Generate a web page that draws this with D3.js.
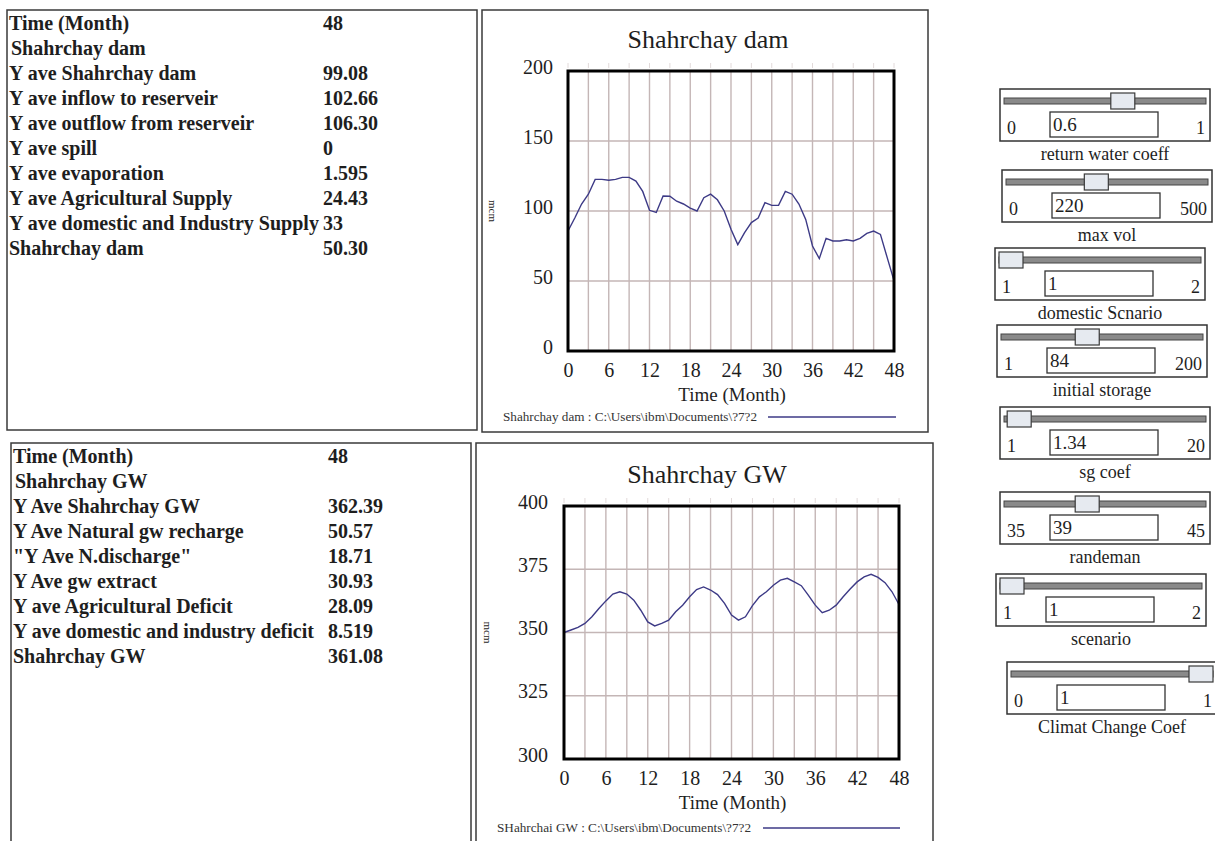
<!DOCTYPE html>
<html>
<head>
<meta charset="utf-8">
<script src="https://cdn.jsdelivr.net/npm/d3@7"></script>
<style>
  html, body { margin: 0; padding: 0; background: #fff; }
  svg { display: block; font-family: "Liberation Serif", "Times New Roman", serif; }
</style>
</head>
<body>
<svg id="view" width="1215" height="841"></svg>
<script>
// ---- Simulation output: Shahrchay dam storage (mcm), months 0..48
const months = d3.range(0, 49);
const damStorage = [85.7, 95, 105, 112, 122.6, 122.6, 122, 122.6, 124, 124, 121.4, 114, 100.5,
  99, 110.7, 110.5, 107, 105, 102, 100, 109.5, 112, 108, 100, 87, 76, 84.5, 91.7, 95, 106,
  104, 104, 114, 112, 105, 94, 75, 66, 80.5, 78.6, 78.6, 79.5, 78.6, 80.5, 84, 85.7, 83.3, 66.7, 50.3];

// ---- Simulation output: Shahrchay groundwater (mcm), months 0..48
const gwStorage = [350, 351, 352, 353.6, 356.2, 359.5, 362.5, 365.2, 366.1, 365.2, 362.8, 358.8,
  354.2, 352.6, 353.6, 354.9, 358.2, 360.8, 364.1, 367, 368, 366.8, 365, 361.5, 356.9, 354.9,
  356.2, 360.6, 364.1, 366.1, 368.7, 370.7, 371.4, 370, 368.5, 364.8, 360.8, 357.8, 358.8,
  360.8, 364.1, 367.2, 370, 372, 373, 371.8, 369.7, 366.1, 361.08];

// Axis ticks
const timeTicks = [0, 6, 12, 18, 24, 30, 36, 42, 48];
const timeGrid = d3.range(0, 49, 3);
const damTicks = [0, 50, 100, 150, 200];
const gwTicks = [300, 325, 350, 375, 400];

// ---- Summary tables
const damTableLabels = ["Time (Month)", "Shahrchay dam", "Y ave Shahrchay dam", "Y ave inflow to reserveir",
  "Y ave outflow from reserveir", "Y ave spill", "Y ave evaporation", "Y ave Agricultural Supply",
  "Y ave domestic and Industry Supply", "Shahrchay dam"];
const damTableValues = ["48", "", "99.08", "102.66", "106.30", "0", "1.595", "24.43", "33", "50.30"];

const gwTableLabels = ["Time (Month)", "Shahrchay GW", "Y Ave Shahrchay GW", "Y Ave Natural gw recharge",
  "\"Y Ave N.discharge\"", "Y Ave gw extract", "Y ave Agricultural Deficit",
  "Y ave domestic and industry deficit", "Shahrchay GW"];
const gwTableValues = ["48", "", "362.39", "50.57", "18.71", "30.93", "28.09", "8.519", "361.08"];

// ---- Model input sliders
const sliderNames = ["return water coeff", "max vol", "domestic Scnario", "initial storage",
  "sg coef", "randeman", "scenario", "Climat Change Coef"];
const sliderMin = [0, 0, 1, 1, 1, 35, 1, 0];
const sliderMax = [1, 500, 2, 200, 20, 45, 2, 1];
const sliderValues = [0.6, 220, 1, 84, 1.34, 39, 1, 1];

const svg = d3.select("#view");
const ink = "#1e1e1e";
const lineColor = "#3d3a86";
const gridColor = "#c4b6b6";

// ---------- Tables ----------
function drawTable(box, labels, values, opt) {
  const g = svg.append("g");
  g.append("rect").attr("x", box.x).attr("y", box.y).attr("width", box.w).attr("height", box.h)
    .attr("fill", "#fff").attr("stroke", "#3a3a3a").attr("stroke-width", 1.5);
  const rows = g.selectAll("g.row").data(labels).join("g").attr("class", "row")
    .attr("transform", (d, i) => `translate(0,${opt.top + i * 25})`);
  rows.append("text")
    .attr("x", (d, i) => i === 1 ? opt.labelX + 2 : opt.labelX)
    .attr("y", 0)
    .attr("font-size", 20).attr("font-weight", "bold").attr("fill", ink)
    .text(d => d);
  rows.append("text")
    .attr("x", opt.valueX).attr("y", 0)
    .attr("font-size", 20).attr("font-weight", "bold").attr("fill", ink)
    .text((d, i) => values[i]);
}
drawTable({ x: 7, y: 10, w: 470, h: 420 }, damTableLabels, damTableValues, { top: 30, labelX: 9, valueX: 323 });
drawTable({ x: 11, y: 443, w: 460, h: 430 }, gwTableLabels, gwTableValues, { top: 463, labelX: 13, valueX: 328 });

// ---------- Line charts ----------
function drawChart(cfg) {
  const g = svg.append("g");
  g.append("rect").attr("x", cfg.panel.x).attr("y", cfg.panel.y).attr("width", cfg.panel.w).attr("height", cfg.panel.h)
    .attr("fill", "#fff").attr("stroke", "#3a3a3a").attr("stroke-width", 1.5);

  const x = d3.scaleLinear().domain([0, 48]).range([cfg.plot.x0, cfg.plot.x1]);
  const y = d3.scaleLinear().domain(cfg.yDomain).range([cfg.plot.y1, cfg.plot.y0]);

  // title
  g.append("text").attr("x", cfg.titleX).attr("y", cfg.titleY).attr("text-anchor", "middle")
    .attr("font-size", 26).attr("fill", ink).text(cfg.title);

  // faint tick marks above the frame
  g.append("g").selectAll("line").data(timeGrid).join("line")
    .attr("x1", d => x(d)).attr("x2", d => x(d))
    .attr("y1", cfg.plot.y0 - 8).attr("y2", cfg.plot.y0 - 3)
    .attr("stroke", "#e2dada").attr("stroke-width", 1);

  // grid
  g.append("g").selectAll("line").data(timeGrid).join("line")
    .attr("x1", d => x(d)).attr("x2", d => x(d))
    .attr("y1", cfg.plot.y0).attr("y2", cfg.plot.y1)
    .attr("stroke", gridColor).attr("stroke-width", 1.4);
  g.append("g").selectAll("line").data(cfg.yTicks).join("line")
    .attr("x1", cfg.plot.x0).attr("x2", cfg.plot.x1)
    .attr("y1", d => y(d)).attr("y2", d => y(d))
    .attr("stroke", gridColor).attr("stroke-width", 1.4);

  // axes
  const yAxis = g.append("g").attr("transform", `translate(${cfg.plot.x0 - cfg.yLabelGap},0)`)
    .call(d3.axisLeft(y).tickValues(cfg.yTicks).tickSize(0).tickPadding(0));
  const xAxis = g.append("g").attr("transform", `translate(0,${cfg.plot.y1 + 8})`)
    .call(d3.axisBottom(x).tickValues(timeTicks).tickSize(0).tickPadding(0));
  [yAxis, xAxis].forEach(a => {
    a.select(".domain").remove();
    a.selectAll("text").attr("font-family", "Liberation Serif, serif").attr("font-size", 20).attr("fill", ink);
  });
  xAxis.selectAll("text").attr("dy", "0.9em");
  yAxis.selectAll("text").attr("dy", "0.1em");

  // series line
  const line = d3.line().x((d, i) => x(months[i])).y(d => y(d));
  g.append("path").datum(cfg.values).attr("d", line)
    .attr("fill", "none").attr("stroke", lineColor).attr("stroke-width", 1.4);

  // frame
  g.append("rect").attr("x", cfg.plot.x0).attr("y", cfg.plot.y0)
    .attr("width", cfg.plot.x1 - cfg.plot.x0).attr("height", cfg.plot.y1 - cfg.plot.y0)
    .attr("fill", "none").attr("stroke", "#000").attr("stroke-width", 3);

  // axis titles
  g.append("text").attr("x", (cfg.plot.x0 + cfg.plot.x1) / 2 + 1).attr("y", cfg.plot.y1 + 50)
    .attr("text-anchor", "middle").attr("font-size", 19).attr("fill", ink).text("Time (Month)");
  g.append("text").attr("transform", `translate(${cfg.unitX},${(cfg.plot.y0 + cfg.plot.y1) / 2}) rotate(90)`)
    .attr("text-anchor", "middle").attr("font-size", 11).attr("fill", ink).text("mcm");

  // legend
  g.append("text").attr("x", cfg.legendX).attr("y", cfg.legendY).attr("font-size", 11.5)
    .attr("fill", "#333").attr("textLength", 254).attr("lengthAdjust", "spacingAndGlyphs")
    .text(cfg.legend);
  g.append("line").attr("x1", cfg.legendLine[0]).attr("x2", cfg.legendLine[1])
    .attr("y1", cfg.legendY - 4).attr("y2", cfg.legendY - 4)
    .attr("stroke", lineColor).attr("stroke-width", 1.3);
}

drawChart({
  panel: { x: 482, y: 10, w: 446, h: 422 },
  plot: { x0: 568, x1: 894, y0: 71, y1: 351 },
  yDomain: [0, 200], yTicks: damTicks, values: damStorage,
  title: "Shahrchay dam", titleX: 708, titleY: 48, yLabelGap: 15, unitX: 489,
  legend: "Shahrchay dam : C:\\Users\\ibm\\Documents\\?7?2", legendX: 503, legendY: 421,
  legendLine: [768, 896]
});
drawChart({
  panel: { x: 476, y: 443, w: 457, h: 430 },
  plot: { x0: 564, x1: 899, y0: 506, y1: 759 },
  yDomain: [300, 400], yTicks: gwTicks, values: gwStorage,
  title: "Shahrchay GW", titleX: 707, titleY: 483, yLabelGap: 16, unitX: 484,
  legend: "SHahrchai GW : C:\\Users\\ibm\\Documents\\?7?2", legendX: 497, legendY: 832,
  legendLine: [763, 900]
});

// ---------- Sliders ----------
const sliderBoxes = [
  { x: 1000, y: 89 }, { x: 1002, y: 170 }, { x: 995, y: 248 }, { x: 997, y: 325 },
  { x: 1000, y: 407 }, { x: 1000, y: 492 }, { x: 996, y: 574 }, { x: 1007, y: 662 }
];
const boxW = 210, boxH = 52, thumbW = 24;

sliderNames.forEach((name, i) => {
  const b = sliderBoxes[i];
  const g = svg.append("g").attr("transform", `translate(${b.x},${b.y})`);
  g.append("rect").attr("width", boxW).attr("height", boxH)
    .attr("fill", "#fff").attr("stroke", "#333").attr("stroke-width", 1.5);
  // track
  g.append("rect").attr("x", 4).attr("y", 9).attr("width", boxW - 8).attr("height", 6)
    .attr("fill", "#8a8a8a").attr("stroke", "#444").attr("stroke-width", 1);
  // thumb, placed through a linear scale of the slider range
  const pos = d3.scaleLinear().domain([sliderMin[i], sliderMax[i]]).range([4 + thumbW / 2, boxW - 4 - thumbW / 2]);
  g.append("rect").attr("x", pos(sliderValues[i]) - thumbW / 2).attr("y", 4)
    .attr("width", thumbW).attr("height", 16)
    .attr("fill", "#e6eaf0").attr("stroke", "#3a3a3a").attr("stroke-width", 1.2);
  // value field
  g.append("rect").attr("x", 50).attr("y", 23).attr("width", 108).attr("height", 25)
    .attr("fill", "#fff").attr("stroke", "#333").attr("stroke-width", 1.3);
  g.append("text").attr("x", 53).attr("y", 42).attr("font-size", 19).attr("fill", ink)
    .text(sliderValues[i]);
  g.append("text").attr("x", 7).attr("y", 45).attr("font-size", 18).attr("fill", ink)
    .text(sliderMin[i]);
  g.append("text").attr("x", boxW - 5).attr("y", 45).attr("text-anchor", "end")
    .attr("font-size", 18).attr("fill", ink).text(sliderMax[i]);
  g.append("text").attr("x", boxW / 2).attr("y", boxH + 19).attr("text-anchor", "middle")
    .attr("font-size", 18).attr("fill", ink).text(name);
});
</script>
</body>
</html>
